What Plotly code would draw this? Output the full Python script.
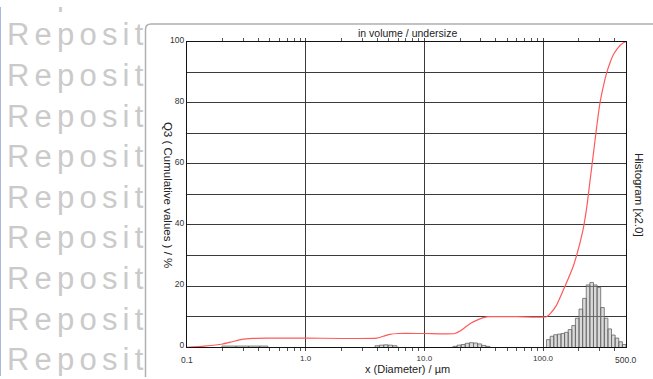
import math
import plotly.graph_objects as go

W, H = 653, 379

# ---------------- data ----------------
# cumulative distribution Q3 (%) vs particle diameter (µm)
cum_x = [0.1, 0.14, 0.196, 0.24, 0.29, 0.36, 0.48, 1.0, 3.97, 4.5, 5.1, 6.0, 10, 18.1,
         20.0, 22.7, 25.0, 27.5, 31.0, 34.3, 60, 107, 115, 130, 152, 180, 216, 234, 248,
         266, 283, 302, 325, 345, 370, 389, 420, 446, 475, 500]
cum_y = [0, 0.4, 1.0, 1.8, 2.6, 2.9, 3.0, 3.0, 3.0, 3.6, 4.2, 4.5, 4.5, 4.5,
         5.3, 6.9, 8.0, 8.8, 9.6, 10, 10, 10, 11, 13.8, 19.7, 26.6, 38, 46, 54,
         63.5, 72, 80, 86, 90, 93.5, 95.5, 97.5, 98.7, 99.6, 100]

# histogram groups (bin edges in µm, bar heights in % scaled x2.0)
hist1_edges = [0.197, 0.26, 0.33, 0.41, 0.48]
hist1_h = [0.4, 0.4, 0.4, 0.4]
hist2_edges = [3.84, 4.18, 4.54, 4.94, 5.4, 5.88]
hist2_h = [0.5, 0.7, 0.8, 0.7, 0.5]
hist3_edges = [17.4, 18.85, 20.4, 22.1, 23.95, 25.95, 28.1, 30.4, 33.0, 35.7]
hist3_h = [0.3, 0.7, 0.9, 1.3, 1.5, 1.4, 1.1, 0.6, 0.3]
hist4_edges = [107, 114.8, 123.1, 132.0, 141.6, 151.9, 162.9, 174.7, 187.4, 201.0, 215.6,
               231.2, 248.0, 266.0, 285.3, 306.0, 328.2, 352.0, 377.6, 405.0, 434.4, 466.0, 500]
hist4_h = [2.5, 3.6, 4.1, 4.3, 4.5, 4.9, 5.8, 7.1, 9.5, 12.5, 16.0, 20.4, 21.2, 20.4,
           19.6, 13.0, 9.5, 6.0, 4.0, 3.0, 1.8, 0.9]

x_tick_vals = [1, 10, 100]
x_tick_text = ["1.0", "10.0", "100.0"]
x_end_labels = [(0.1, "0.1"), (500, "500.0")]
y_tick_vals = [0, 20, 40, 60, 80, 100]
y_tick_text = ["0", "20", "40", "60", "80", "100"]
y_minor_grid = [10, 30, 50, 70, 90]

watermark_text = "Reposit"
watermark_rows = [-10.2, 31.5, 73.2, 114.9, 156.6, 198.3, 240.0, 281.7, 323.4, 365.1]

FONT = "Liberation Sans, Arial, sans-serif"


def px(x):
    return x / W


def py(y):
    return 1 - y / H


fig = go.Figure()

# watermark subplot (clipped at the panel edge)
fig.add_trace(go.Scatter(
    x=[7] * len(watermark_rows), y=watermark_rows, mode="text",
    text=['<span style="letter-spacing:5.2px">' + watermark_text + '</span>'] * len(watermark_rows),
    textposition="middle right",
    textfont=dict(family=FONT, size=31, color="#cacaca"),
    xaxis="x2", yaxis="y2", hoverinfo="skip", showlegend=False, cliponaxis=True))

# histogram bars
for edges, hs in [(hist1_edges, hist1_h), (hist2_edges, hist2_h),
                  (hist3_edges, hist3_h), (hist4_edges, hist4_h)]:
    xs, ys = [], []
    for i, h in enumerate(hs):
        xs += [edges[i], edges[i], edges[i + 1], edges[i + 1]]
        ys += [0, h, h, 0]
    fig.add_trace(go.Scatter(
        x=xs, y=ys, mode="lines", fill="toself",
        fillcolor="rgba(170,170,170,0.45)",
        line=dict(color="#666666", width=0.8),
        hoverinfo="skip", showlegend=False))

# cumulative curve
fig.add_trace(go.Scatter(
    x=cum_x, y=cum_y, mode="lines",
    line=dict(color="#ff5a5a", width=1.2, shape="spline", smoothing=0.6),
    hoverinfo="skip", showlegend=False))

minor_vals = [m * 10 ** k for k in (-1, 0, 1, 2) for m in range(2, 10) if m * 10 ** k < 500]

fig.update_layout(
    width=W, height=H, autosize=False,
    margin=dict(l=0, r=0, t=0, b=0),
    paper_bgcolor="white", plot_bgcolor="rgba(0,0,0,0)",
    font=dict(family=FONT, color="#333333"),
    showlegend=False,
    xaxis=dict(
        type="log", range=[-1, math.log10(500)],
        domain=[px(187), px(626)],
        tickmode="array", tickvals=x_tick_vals, ticktext=x_tick_text,
        tickfont=dict(size=8, color="#333"),
        ticks="outside", ticklen=3, tickcolor="#444", ticklabelstandoff=0,
        minor=dict(tickmode="array", tickvals=minor_vals, ticks="outside", ticklen=3,
                   tickcolor="#555", showgrid=False),
        showgrid=True, gridcolor="#3a3a3a", gridwidth=1,
        showline=True, linecolor="#111", linewidth=1, mirror="allticks",
        zeroline=False, fixedrange=True),
    yaxis=dict(
        range=[0, 100], domain=[py(349.5), py(35.5)],
        tickmode="array", tickvals=y_tick_vals, ticktext=y_tick_text,
        tickfont=dict(size=8.5, color="#333"),
        ticks="", ticklabelshift=-2,
        minor=dict(tickmode="array", tickvals=y_minor_grid, ticks="",
                   showgrid=True, gridcolor="#3a3a3a", gridwidth=1),
        showgrid=True, gridcolor="#3a3a3a", gridwidth=1,
        showline=True, linecolor="#111", linewidth=1, mirror=True,
        zeroline=False, fixedrange=True),
    xaxis2=dict(range=[0, 145], domain=[0, px(145)], visible=False, anchor="y2", fixedrange=True),
    yaxis2=dict(range=[H, 0], domain=[0, 1], visible=False, anchor="x2", fixedrange=True),
)

shapes = [
    dict(type="path", xref="paper", yref="paper", layer="below",
         path=f"M {px(145.5)},{py(380)} L {px(145.5)},{py(23)} Q {px(145.5)},{py(17.5)} {px(151)},{py(17.5)} L {px(654)},{py(17.5)}",
         line=dict(color="#b0b0b0", width=1.5)),
    dict(type="line", xref="paper", yref="paper", x0=px(0.5), x1=px(0.5), y0=0, y1=1,
         line=dict(color="#a9b8dc", width=1)),
]
fig.update_layout(shapes=shapes)

annotations = [
    dict(text="in volume / undersize", xref="paper", yref="paper", x=px(407), y=py(27),
         xanchor="center", yanchor="middle", showarrow=False, font=dict(size=10.5, color="#222")),
    dict(text="x (Diameter) / µm", xref="paper", yref="paper", x=px(407), y=py(371.5),
         xanchor="center", yanchor="middle", showarrow=False, font=dict(size=11, color="#222")),
    dict(text="Q3 ( Cumulative values ) / %", xref="paper", yref="paper", x=px(168), y=py(193),
         xanchor="center", yanchor="middle", textangle=90, showarrow=False,
         font=dict(size=11.5, color="#222")),
    dict(text="Histogram [x2.0]", xref="paper", yref="paper", x=px(639), y=py(193),
         xanchor="center", yanchor="middle", textangle=90, showarrow=False,
         font=dict(size=11.5, color="#222")),
]
for xv, lab in x_end_labels:
    annotations.append(dict(text=lab, xref="x", yref="paper", x=math.log10(xv), y=py(363),
                            xanchor="center", yanchor="middle", showarrow=False,
                            font=dict(size=8.5, color="#333")))
fig.update_layout(annotations=annotations)

fig.write_html("out.html")
